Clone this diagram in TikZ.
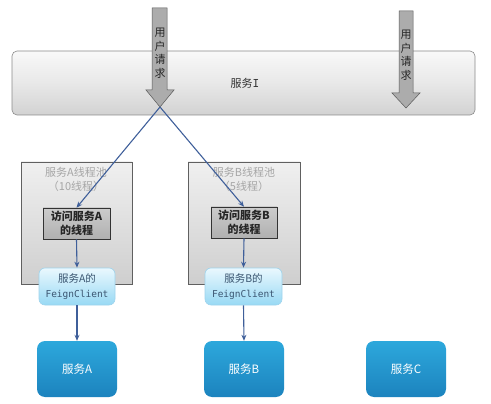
\documentclass[tikz,border=0pt]{standalone}
\usepackage{fontspec}
\setmainfont{Noto Sans CJK SC}
\newfontfamily\monofnt{DejaVu Sans Mono}
\usetikzlibrary{arrows.meta}
\definecolor{linec}{HTML}{3F5F9A}
\definecolor{bordg}{HTML}{8A8A8A}
\definecolor{ftop}{HTML}{EAF8FE}
\definecolor{fbot}{HTML}{98D9F4}
\definecolor{fbord}{HTML}{9ED3EC}
\definecolor{ftxt}{HTML}{3A5570}
\definecolor{stop}{HTML}{2DA8DC}
\definecolor{sbot}{HTML}{1C83BE}
\tikzset{
  conn/.style={draw=linec, line width=1.1pt, -{Stealth[length=6pt,width=5pt]}},
  barbox/.style={draw=bordg, line width=0.6pt, rounded corners=5pt, top color=white!95!gray, bottom color=gray!35, middle color=gray!18},
  reqarrow/.style={draw=gray!70!black, line width=0.5pt, fill=gray!65},
  poolbox/.style={draw=gray!75!black, line width=0.6pt, top color=gray!12, bottom color=gray!38},
  pooltxt/.style={text=gray!70, font=\fontsize{11}{14}\selectfont, align=center},
  threadbox/.style={draw=gray!40!black, line width=0.6pt, top color=gray!40, bottom color=gray!62, font=\fontsize{11}{14}\selectfont\bfseries, align=center, text=black!85, inner sep=0pt},
  feignbox/.style={draw=fbord, line width=0.6pt, rounded corners=6pt, top color=ftop, bottom color=fbot, font=\fontsize{10.5}{15}\selectfont, align=center, text=ftxt, inner sep=0pt},
  svcbox/.style={draw=none, rounded corners=8pt, top color=stop, bottom color=sbot, font=\fontsize{11.5}{12}\selectfont, text=white, inner sep=0pt, minimum width=80pt, minimum height=56pt},
}
\begin{document}
\begin{tikzpicture}[x=1pt,y=-1pt]
\useasboundingbox (0,0) rectangle (491,404);
% Service I bar
\node[barbox, minimum width=463pt, minimum height=64pt, inner sep=0pt] (svcI) at (243.5,83) {};
\node[font=\fontsize{11}{12}\selectfont, text=black!80] (svcItxt) at (245,83) {服务{\monofnt I}};
% request arrows
\draw[reqarrow] (152,8) -- (167,8) -- (167,90) -- (174,90) -- (160,107) -- (146,90) -- (152,90) -- cycle;
\coordinate (tipL) at (160,107);
\node[font=\fontsize{11}{13.5}\selectfont, align=center, text=black!85] (reqL) at (160,53) {用\\户\\请\\求};
\draw[reqarrow] (399,11) -- (413,11) -- (413,93) -- (420,93) -- (406,108) -- (392,93) -- (399,93) -- cycle;
\node[font=\fontsize{11}{13.5}\selectfont, align=center, text=black!85] (reqR) at (406,55) {用\\户\\请\\求};
% pools
\node[poolbox, minimum width=111pt, minimum height=122pt, inner sep=0pt] (poolA) at (76.5,223) {};
\node[pooltxt] (poolAt) at (76,179) {服务A线程池\\（10线程）};
\node[poolbox, minimum width=112pt, minimum height=122pt, inner sep=0pt] (poolB) at (244,223) {};
\node[pooltxt] (poolBt) at (244,179) {服务B线程池\\（5线程）};
% threads
\node[threadbox, minimum width=67pt, minimum height=31pt] (thA) at (76.5,223.5) {访问服务A\\的线程};
\node[threadbox, minimum width=66pt, minimum height=31pt] (thB) at (244,222.5) {访问服务B\\的线程};
% feign clients
\node[feignbox, minimum width=76pt, minimum height=37pt] (fA) at (77,286.5) {服务A的\\{\monofnt\fontsize{9.5}{15}\selectfont FeignClient}};
\node[feignbox, minimum width=77pt, minimum height=37pt] (fB) at (243.5,286.5) {服务B的\\{\monofnt\fontsize{9.5}{15}\selectfont FeignClient}};
% services
\node[svcbox] (sA) at (77,369) {服务A};
\node[svcbox] (sB) at (244,369) {服务B};
\node[svcbox] (sC) at (406,369) {服务C};
% connectors
\draw[conn] (tipL) -- (thA.north);
\draw[conn] (tipL) -- (thB.north);
\draw[conn] (thA.south) -- (fA.north);
\draw[conn] (thB.south) -- (fB.north);
\draw[conn] (fA.south) -- (sA.north);
\draw[conn] (fB.south) -- (sB.north);
\end{tikzpicture}
\end{document}
